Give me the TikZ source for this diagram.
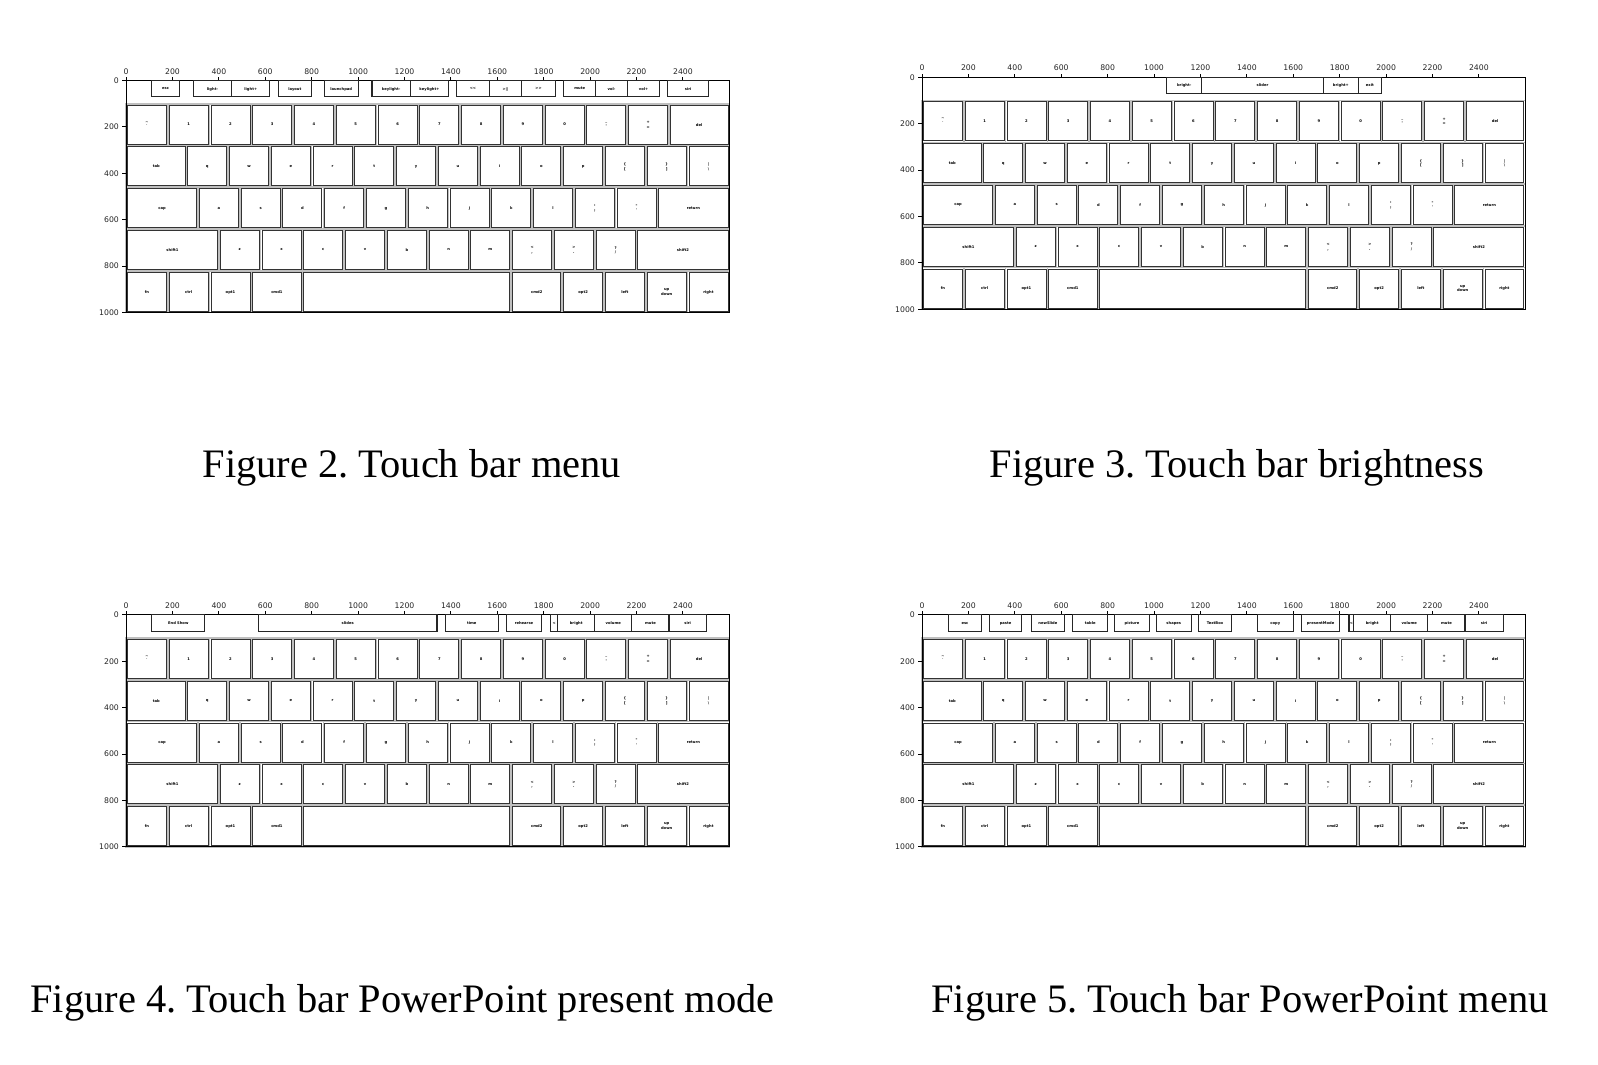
\documentclass[tikz,border=0pt]{standalone}
\usepackage{fontspec}
\setmainfont{Liberation Serif}
\newfontfamily\tickfont{DejaVu Sans}
\usetikzlibrary{positioning}
\frenchspacing

\tikzset{
  axisline/.style={draw=black, line width=0.3pt},
  keyshadow/.style={draw=gray!50, line width=0.45pt},
  keyedge/.style={draw=black!80, line width=0.25pt},
  touchkey/.style={draw=black!85, line width=0.3pt},
  keylabel/.style={font={\tickfont\bfseries\fontsize{1.05}{1.3}\selectfont}, align=center, inner sep=0pt, text depth=0pt},
  ticklabel/.style={font={\tickfont\fontsize{2.2}{2.6}\selectfont}, inner sep=0pt, text=black!85},
  figcaption/.style={font={\fontsize{11.5}{13}\selectfont}, anchor=base, inner sep=0pt},
  panel/.style={x=0.00232cm, y=-0.00232cm}
}

% one key cell: left, top, width
\newcommand{\keycell}[3]{%
  \draw[keyshadow] (#1,#2) rectangle ++(#3,180);
  \draw[keyedge] ({#1+6},{#2+6}) rectangle ({#1+#3-6},{#2+174});
}

% one row of keys: top edge, then x/width/label
\newcommand{\keyrow}[2]{%
  \foreach \kx/\kw/\kl in {#2}{%
    \keycell{\kx}{#1}{\kw}
    \node[keylabel] (k\kx) at ({\kx+\kw/2},{#1+90}) {\kl};
  }%
}

% touch bar keys: left/right/label
\newcommand{\touchbar}[1]{%
  \foreach \ta/\tb/\tl in {#1}{%
    \draw[touchkey] (\ta,0) rectangle (\tb,70);
    \node[keylabel] (t\ta) at ({(\ta+\tb)/2},35) {\tl};
  }%
}

% the common keyboard with its axes
\newcommand{\keyboard}{%
  \keyrow{100}{0/180/{\textasciitilde\\\textasciigrave}, 180/180/1, 360/180/2, 540/180/3, 720/180/4,
    900/180/5, 1080/180/6, 1260/180/7, 1440/180/8, 1620/180/9, 1800/180/0,
    1980/180/{\_\\-}, 2160/180/{+\\=}, 2340/260/del}
  \keyrow{280}{0/260/tab, 260/180/q, 440/180/w, 620/180/e, 800/180/r, 980/180/t,
    1160/180/y, 1340/180/u, 1520/180/i, 1700/180/o, 1880/180/p,
    2060/180/{\{\\{[}}, 2240/180/{\}\\{]}}, 2420/180/{|\\\textbackslash}}
  \keyrow{460}{0/310/cap, 310/180/a, 490/180/s, 670/180/d, 850/180/f, 1030/180/g,
    1210/180/h, 1390/180/j, 1570/180/k, 1750/180/l,
    1930/180/{:\\;}, 2110/180/{"\\'}, 2290/310/return}
  \keyrow{640}{0/400/shift1, 400/180/z, 580/180/x, 760/180/c, 940/180/v, 1120/180/b,
    1300/180/n, 1480/180/m, 1660/180/{<\\,}, 1840/180/{>\\.}, 2020/180/{?\\/},
    2200/400/shift2}
  \keyrow{820}{0/180/fn, 180/180/ctrl, 360/180/opt1, 540/220/cmd1,
    1660/220/cmd2, 1880/180/opt2, 2060/180/left, 2240/180/{up\\down}, 2420/180/right}
  % space bar, no label
  \keycell{760}{820}{900}
  \draw[axisline] (0,0) rectangle (2600,1000);
  \foreach \t in {0,200,...,2400}{%
    \draw[axisline] (\t,0) -- (\t,-16);
    \node[ticklabel, anchor=south] (xt\t) at (\t,-24) {\t};
  }
  \foreach \t in {0,200,...,1000}{%
    \draw[axisline] (0,\t) -- (-16,\t);
    \node[ticklabel, anchor=east] (yt\t) at (-28,\t) {\t};
  }
}

\begin{document}
\begin{tikzpicture}[x=0.01cm, y=-0.01cm]
    \path[use as bounding box, fill=white] (0,0) rectangle (1598,1064);

    % Figure 2: touch bar menu
    \begin{scope}[shift={(1.26cm,-0.805cm)}, panel]
        \keyboard
        \touchbar{110/230/esc, 290/455/light-, 455/620/light+, 655/800/layout,
          855/1000/launchpad, 1060/1225/keylight-, 1225/1390/keylight+,
          1425/1565/<<, 1565/1705/>||, 1705/1850/>>, 1885/2025/mute,
          2025/2160/vol-, 2160/2300/vol+, 2335/2510/siri}
    \end{scope}
    \node[figcaption] (cap2) at (411.7,477) {Figure 2. Touch bar menu};

    % Figure 3: brightness slider
    \begin{scope}[shift={(9.215cm,-0.773cm)}, panel]
        \keyboard
        \touchbar{1055/1205/bright-, 1205/1730/slider, 1730/1880/bright+, 1880/1980/exit}
    \end{scope}
    \node[figcaption] (cap3) at (1237,477) {Figure 3. Touch bar brightness};

    % Figure 4: PowerPoint present mode
    \begin{scope}[shift={(1.26cm,-6.145cm)}, panel]
        \keyboard
        \touchbar{110/340/End Show, 570/1340/slides, 1375/1605/time, 1640/1790/rehearse,
          1830/1860/<, 1860/2020/bright, 2020/2180/volume, 2180/2340/mute, 2340/2500/siri}
    \end{scope}
    \node[figcaption] (cap4) at (402.5,1012) {Figure 4. Touch bar PowerPoint present mode};

    % Figure 5: PowerPoint menu
    \begin{scope}[shift={(9.215cm,-6.145cm)}, panel]
        \keyboard
        \touchbar{115/255/esc, 290/430/paste, 470/615/newSlide, 650/800/table,
          830/980/picture, 1010/1160/shapes, 1190/1335/TextBox, 1445/1600/copy,
          1635/1800/presentMode, 1840/1860/<, 1860/2020/bright, 2020/2180/volume,
          2180/2340/mute, 2340/2505/siri}
    \end{scope}
    \node[figcaption] (cap5) at (1240,1012) {Figure 5. Touch bar PowerPoint menu};

\end{tikzpicture}
\end{document}
